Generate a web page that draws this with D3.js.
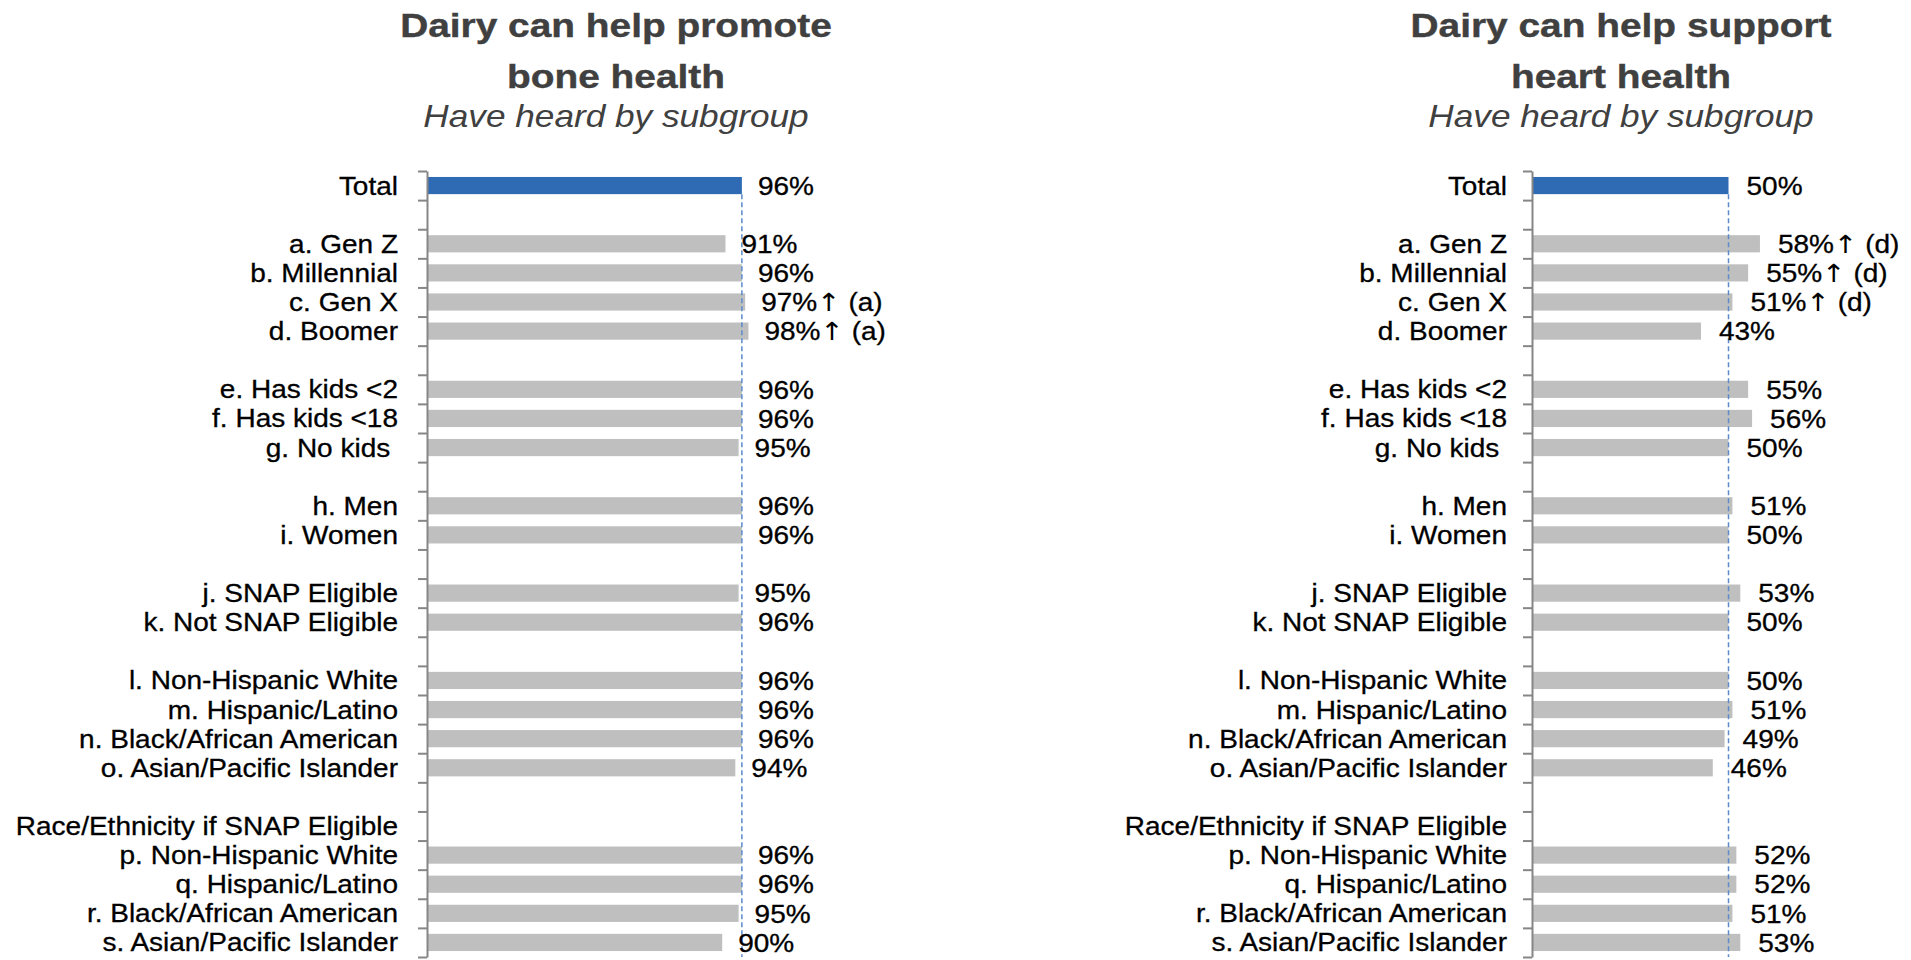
<!DOCTYPE html>
<html>
<head>
<meta charset="utf-8">
<script src="https://cdn.jsdelivr.net/npm/d3@7"></script>
<style>
  html, body { margin: 0; padding: 0; background: #ffffff; }
  svg { display: block; }
  text { font-family: "Liberation Sans", Arial, sans-serif; white-space: pre; }
  .arrow { font-family: "DejaVu Sans", sans-serif; }
</style>
</head>
<body>
<svg id="chart" width="1911" height="960"></svg>
<script>
// Row labels shared by both panels; empty strings are spacer rows.
const categories = [
  "Total", "",
  "a. Gen Z", "b. Millennial", "c. Gen X", "d. Boomer", "",
  "e. Has kids <2", "f. Has kids <18", "g. No kids ", "",
  "h. Men", "i. Women", "",
  "j. SNAP Eligible", "k. Not SNAP Eligible", "",
  "l. Non-Hispanic White", "m. Hispanic/Latino", "n. Black/African American", "o. Asian/Pacific Islander", "",
  "Race/Ethnicity if SNAP Eligible",
  "p. Non-Hispanic White", "q. Hispanic/Latino", "r. Black/African American", "s. Asian/Pacific Islander"
];

// Percent who have heard "Dairy can help promote bone health"
const boneValues = [
  96, null,
  91, 96, 97, 98, null,
  96, 96, 95, null,
  96, 96, null,
  95, 96, null,
  96, 96, 96, 94, null,
  null,
  96, 96, 95, 90
];
// Subgroup that a row is significantly higher than
const boneNotes = [
  "", "",
  "", "", "(a)", "(a)", "",
  "", "", "", "",
  "", "", "",
  "", "", "",
  "", "", "", "", "",
  "",
  "", "", "", ""
];

// Percent who have heard "Dairy can help support heart health"
const heartValues = [
  50, null,
  58, 55, 51, 43, null,
  55, 56, 50, null,
  51, 50, null,
  53, 50, null,
  50, 51, 49, 46, null,
  null,
  52, 52, 51, 53
];
const heartNotes = [
  "", "",
  "(d)", "(d)", "(d)", "", "",
  "", "", "", "",
  "", "", "",
  "", "", "",
  "", "", "", "", "",
  "",
  "", "", "", ""
];

const boneTitle = ["Dairy can help promote", "bone health"];
const heartTitle = ["Dairy can help support", "heart health"];
const subtitle = "Have heard by subgroup";

const svg = d3.select("#chart");

const plotTop = 171, plotBottom = 957;
const rowCount = categories.length;
const widen = 1.12;   // horizontal stretch for the wide sans face

// Band scale for bars and labels, linear scale for the boundary ticks.
const yBand = d3.scaleBand().domain(d3.range(rowCount)).range([plotTop, plotBottom])
  .paddingInner(0.41).paddingOuter(0.205);
const yEdge = d3.scaleLinear().domain([0, rowCount]).range([plotTop, plotBottom]);

function drawPanel(cfg) {
  const g = svg.append("g");
  const x = d3.scaleLinear().domain([0, 100]).range([cfg.axisX, cfg.axisX + cfg.fullWidth]);

  // Titles
  g.selectAll("text.title").data(cfg.title).join("text")
    .attr("class", "title")
    .attr("transform", (d, i) => `translate(${cfg.titleX},${37 + i * 51}) scale(1.16,1)`)
    .attr("text-anchor", "middle")
    .attr("font-size", 33.5).attr("font-weight", "bold")
    .attr("fill", "#404040")
    .attr("stroke", "#404040").attr("stroke-width", 0.4)
    .text(d => d);
  g.append("text")
    .attr("transform", `translate(${cfg.titleX},127) scale(1.1,1)`)
    .attr("text-anchor", "middle")
    .attr("font-size", 32).attr("font-style", "italic")
    .attr("fill", "#404040")
    .text(subtitle);

  const rows = categories.map((c, i) => ({ i, label: c, value: cfg.values[i], note: cfg.notes[i] }));
  const withBars = rows.filter(r => r.value != null);

  // Bars
  g.selectAll("rect.bar").data(withBars).join("rect")
    .attr("class", "bar")
    .attr("x", x(0))
    .attr("y", d => yBand(d.i))
    .attr("width", d => x(d.value) - x(0))
    .attr("height", yBand.bandwidth())
    .attr("fill", d => d.i === 0 ? "#2F6BB5" : "#BFBFBF");

  // Reference line at the Total value
  const total = cfg.values[0];
  g.append("line")
    .attr("x1", x(total)).attr("x2", x(total))
    .attr("y1", yBand(0) + yBand.bandwidth()).attr("y2", plotBottom)
    .attr("stroke", "#5B8BCB").attr("stroke-width", 1.5)
    .attr("stroke-dasharray", "5,3");

  // Category axis: line plus ticks between rows
  const edgeAxis = d3.axisLeft(yEdge)
    .tickValues(d3.range(rowCount + 1))
    .tickSize(9).tickSizeOuter(0)
    .tickFormat("");
  const ea = g.append("g").attr("transform", `translate(${cfg.axisX},0)`).call(edgeAxis);
  ea.selectAll("path, line").attr("stroke", "#868686").attr("stroke-width", 2);

  // Row labels
  const labelAxis = d3.axisLeft(yBand)
    .tickSize(0).tickPadding(cfg.labelGap)
    .tickFormat(i => categories[i]);
  const la = g.append("g").attr("transform", `translate(${cfg.axisX},0)`).call(labelAxis);
  la.select(".domain").remove();
  la.selectAll("text")
    .attr("x", 0)
    .attr("transform", `translate(${-cfg.labelGap},0) scale(${widen},1)`)
    .attr("font-size", 25).attr("fill", "#000")
    .attr("stroke", "#000").attr("stroke-width", 0.3)
    .attr("font-family", "'Liberation Sans', Arial, sans-serif")
    .attr("dy", "0.36em");

  // Value labels, with an up arrow and the compared subgroup where significant
  const vt = g.selectAll("text.value").data(withBars).join("text")
    .attr("class", "value")
    .attr("transform", d => `translate(${x(d.value) + cfg.valueGap},${yBand(d.i) + yBand.bandwidth() / 2}) scale(${widen},1)`)
    .attr("dy", "0.37em")
    .attr("font-size", 25).attr("fill", "#000")
    .attr("stroke", "#000").attr("stroke-width", 0.3);
  vt.append("tspan").text(d => `${d.value}%`);
  vt.filter(d => d.note).append("tspan").attr("class", "arrow")
    .attr("font-size", 25).attr("stroke-width", 0).text("↑");
  vt.filter(d => d.note).append("tspan").text(d => ` ${d.note}`);
}

drawPanel({
  title: boneTitle, titleX: 616,
  values: boneValues, notes: boneNotes,
  axisX: 427, fullWidth: 328, labelGap: 29, valueGap: 16
});

drawPanel({
  title: heartTitle, titleX: 1621,
  values: heartValues, notes: heartNotes,
  axisX: 1532, fullWidth: 393, labelGap: 25, valueGap: 18
});
</script>
</body>
</html>
